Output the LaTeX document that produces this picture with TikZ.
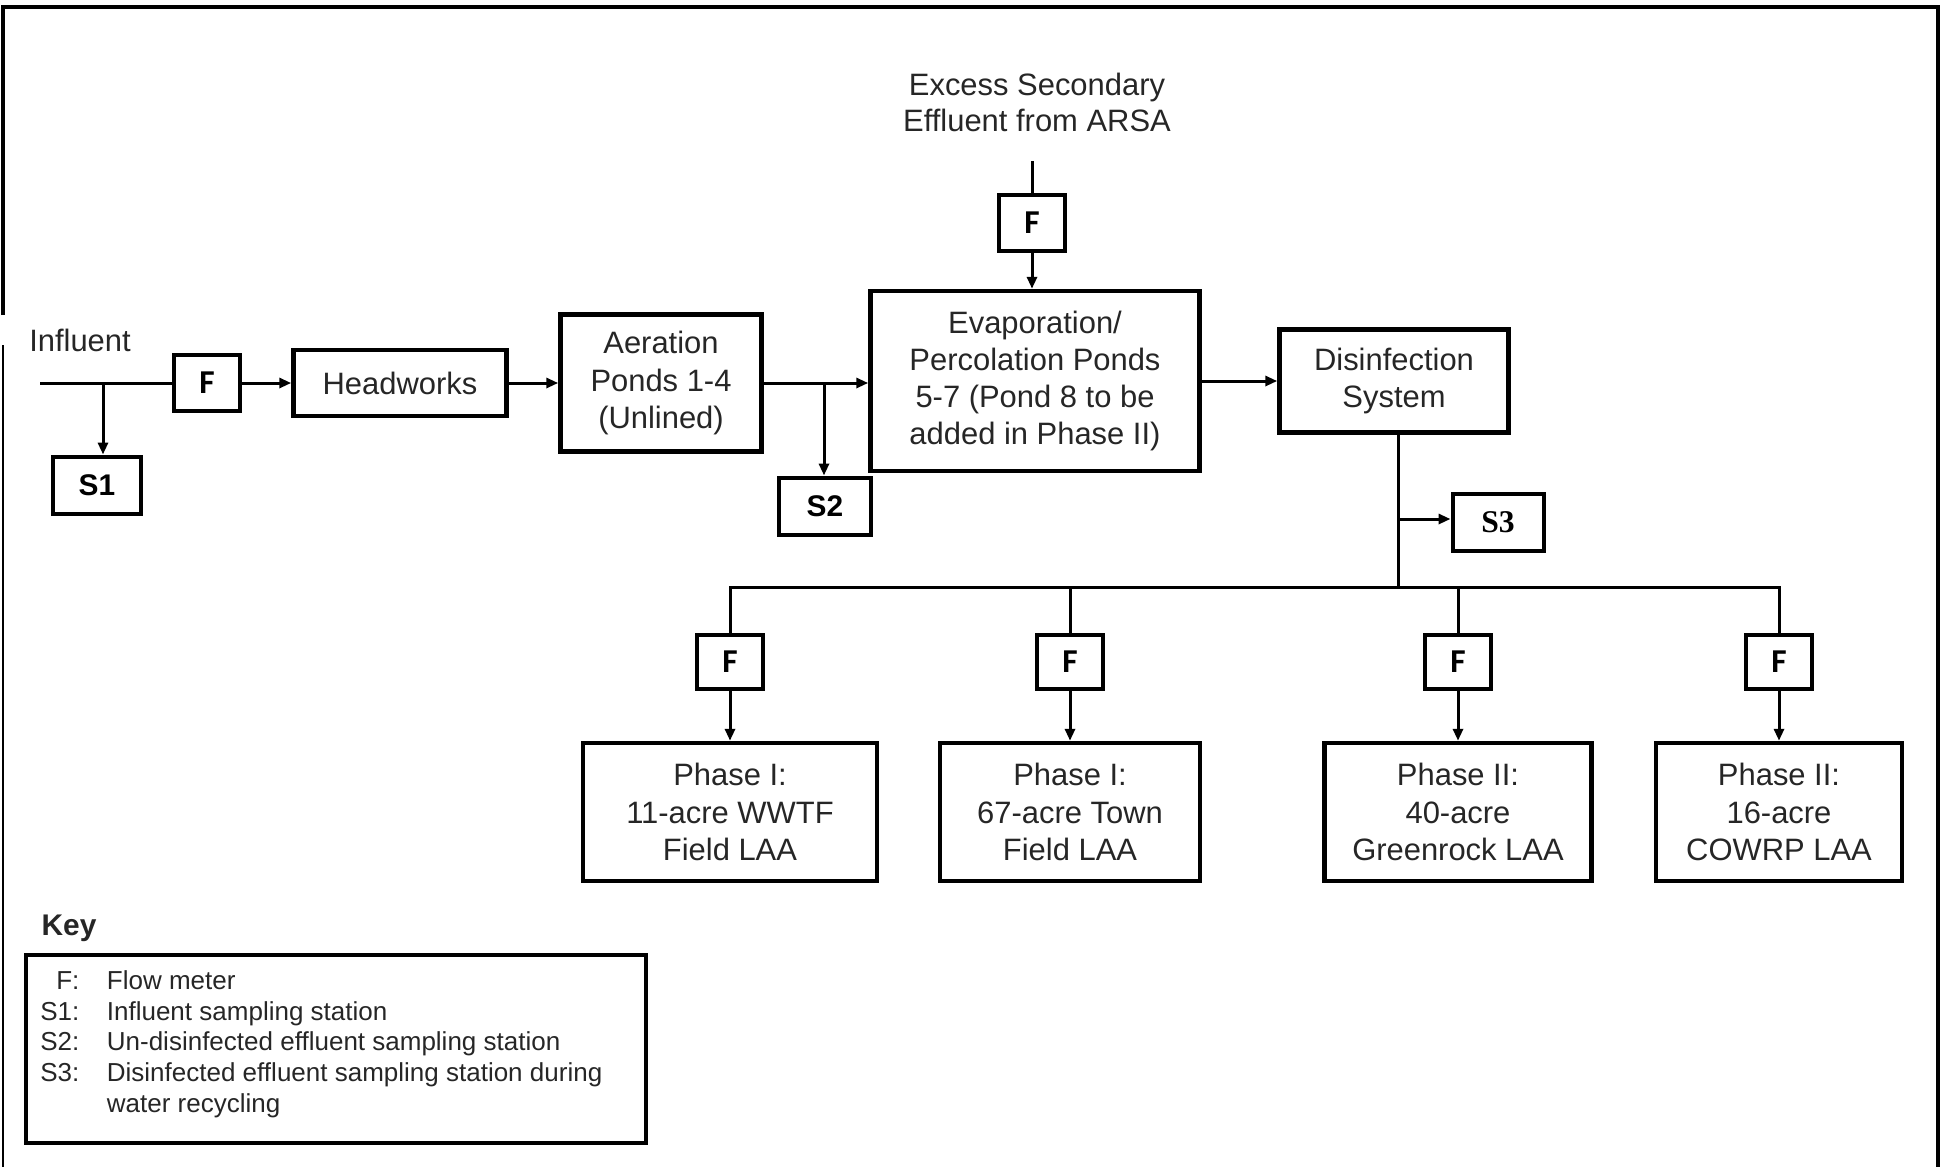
\documentclass[tikz,border=0pt]{standalone}
\usepackage{fontspec}
\setmainfont{Liberation Sans}
\newfontfamily\timesfont{Liberation Serif}
\newfontfamily\calfont{Carlito}
\usetikzlibrary{positioning, arrows.meta}

\begin{document}
\begin{tikzpicture}[
    x=0.2mm, y=-0.2mm,
    block/.style={rectangle, draw, line width=0.9mm, align=center, inner sep=0pt,
    font=\fontsize{17.6}{21.1}\selectfont, text=black!85},
    meter/.style={rectangle, draw, line width=0.8mm, minimum width=13.2mm,
    minimum height=11.2mm, inner sep=0pt, font=\calfont\bfseries\fontsize{19}{19}\selectfont},
    sample/.style={rectangle, draw, line width=0.8mm, minimum height=11.4mm,
    inner sep=0pt, font=\bfseries\fontsize{17}{17}\selectfont},
    label/.style={align=center, inner sep=0pt, font=\fontsize{17.6}{20.5}\selectfont, text=black!85},
    pipe/.style={line width=0.6mm},
    arrow/.style={line width=0.6mm, -{Triangle[length=2.4mm, width=2mm]}},
]
\useasboundingbox (0,0) rectangle (1942,1167);

% frame
\draw[line width=0.8mm] (3,315) -- (3,7) -- (1938,7) -- (1938,1167);
\draw[line width=0.4mm] (3,345) -- (3,1167);

% main treatment line
\node[label] (influent) at (80,340) {Influent};
\node[meter] (fin) at (207,383) {F};
\node[sample, minimum width=17.4mm] (s1) at (97,485) {S1};
\node[block, minimum width=42.6mm, minimum height=13.2mm] (head) at (400,383) {Headworks};
\node[block, minimum width=40.2mm, minimum height=27.4mm] (aer) at (661,383) {Aeration\\Ponds 1-4\\(Unlined)};
\node[sample, minimum width=18.4mm] (s2) at (825,506) {S2};
\node[block, minimum width=65.8mm, minimum height=36mm] (evap) at (1035,381)
    {Evaporation/\\Percolation Ponds\\5-7 (Pond 8 to be\\added in Phase II)};
\node[meter] (fex) at (1032,223) {F};
\node[label] (arsa) at (1037,102) {Excess Secondary\\Effluent from ARSA};
\node[block, minimum width=45.8mm, minimum height=20.6mm] (dis) at (1394,381) {Disinfection\\System};
\node[sample, minimum width=18.2mm, font=\timesfont\bfseries\fontsize{18}{18}\selectfont] (s3) at (1498,522) {S3};

% land application areas
\node[block, minimum width=58.8mm, minimum height=27.6mm] (laa1) at (730,812) {Phase I:\\11-acre WWTF\\Field LAA};
\node[block, minimum width=52mm, minimum height=27.6mm] (laa2) at (1070,812) {Phase I:\\67-acre Town\\Field LAA};
\node[block, minimum width=53.4mm, minimum height=27.6mm] (laa3) at (1458,812) {Phase II:\\40-acre\\Greenrock LAA};
\node[block, minimum width=49.2mm, minimum height=27.6mm] (laa4) at (1779,812) {Phase II:\\16-acre\\COWRP LAA};
\foreach \i in {1,...,4}
    \node[meter, minimum height=10.8mm, above=10mm of laa\i] (fm\i) {F};

\coordinate (inlet) at (40,383);
\coordinate (tap1) at (103,383);
\coordinate (tap2) at (824,383);
\coordinate (arsain) at (1032,161);
\coordinate (tap3) at (1398,519);
\coordinate (bus) at (1398,587);

\draw[pipe] (inlet) -- (fin);
\draw[arrow] (tap1) -- (tap1 |- s1.north);
\draw[arrow] (fin) -- (head);
\draw[arrow] (head) -- (aer);
\draw[arrow] (aer.east) -- (aer.east -| evap.west);
\draw[arrow] (tap2) -- (tap2 |- s2.north);
\draw[pipe] (arsain) -- (fex);
\draw[arrow] (fex) -- (fex |- evap.north);
\draw[arrow] (evap) -- (dis);
\draw[pipe] (dis.south -| bus) -- (bus);
\draw[arrow] (tap3) -- (tap3 -| s3.west);

\draw[pipe] (fm1) |- (bus -| fm4) -- (fm4);
\draw[pipe] (fm2 |- bus) -- (fm2);
\draw[pipe] (fm3 |- bus) -- (fm3);
\foreach \i in {1,...,4}
    \draw[arrow] (fm\i) -- (laa\i);

% key
\node[font=\bfseries\fontsize{17}{17}\selectfont, text=black!85] (keytitle) at (69,928) {Key};
\node[draw, line width=0.8mm, minimum width=124mm, minimum height=37.6mm] (keybox) at (336,1049) {};
\node[anchor=north west, inner sep=0pt, font=\fontsize{14.8}{17.4}\selectfont, text=black!85] (keytext) at (40,968)
    {\begin{tabular}{@{}r@{\hspace{5.5mm}}l@{}}
    F: & Flow meter\\
    S1: & Influent sampling station\\
    S2: & Un-disinfected effluent sampling station\\
    S3: & Disinfected effluent sampling station during\\
        & water recycling
    \end{tabular}};

\end{tikzpicture}
\end{document}
